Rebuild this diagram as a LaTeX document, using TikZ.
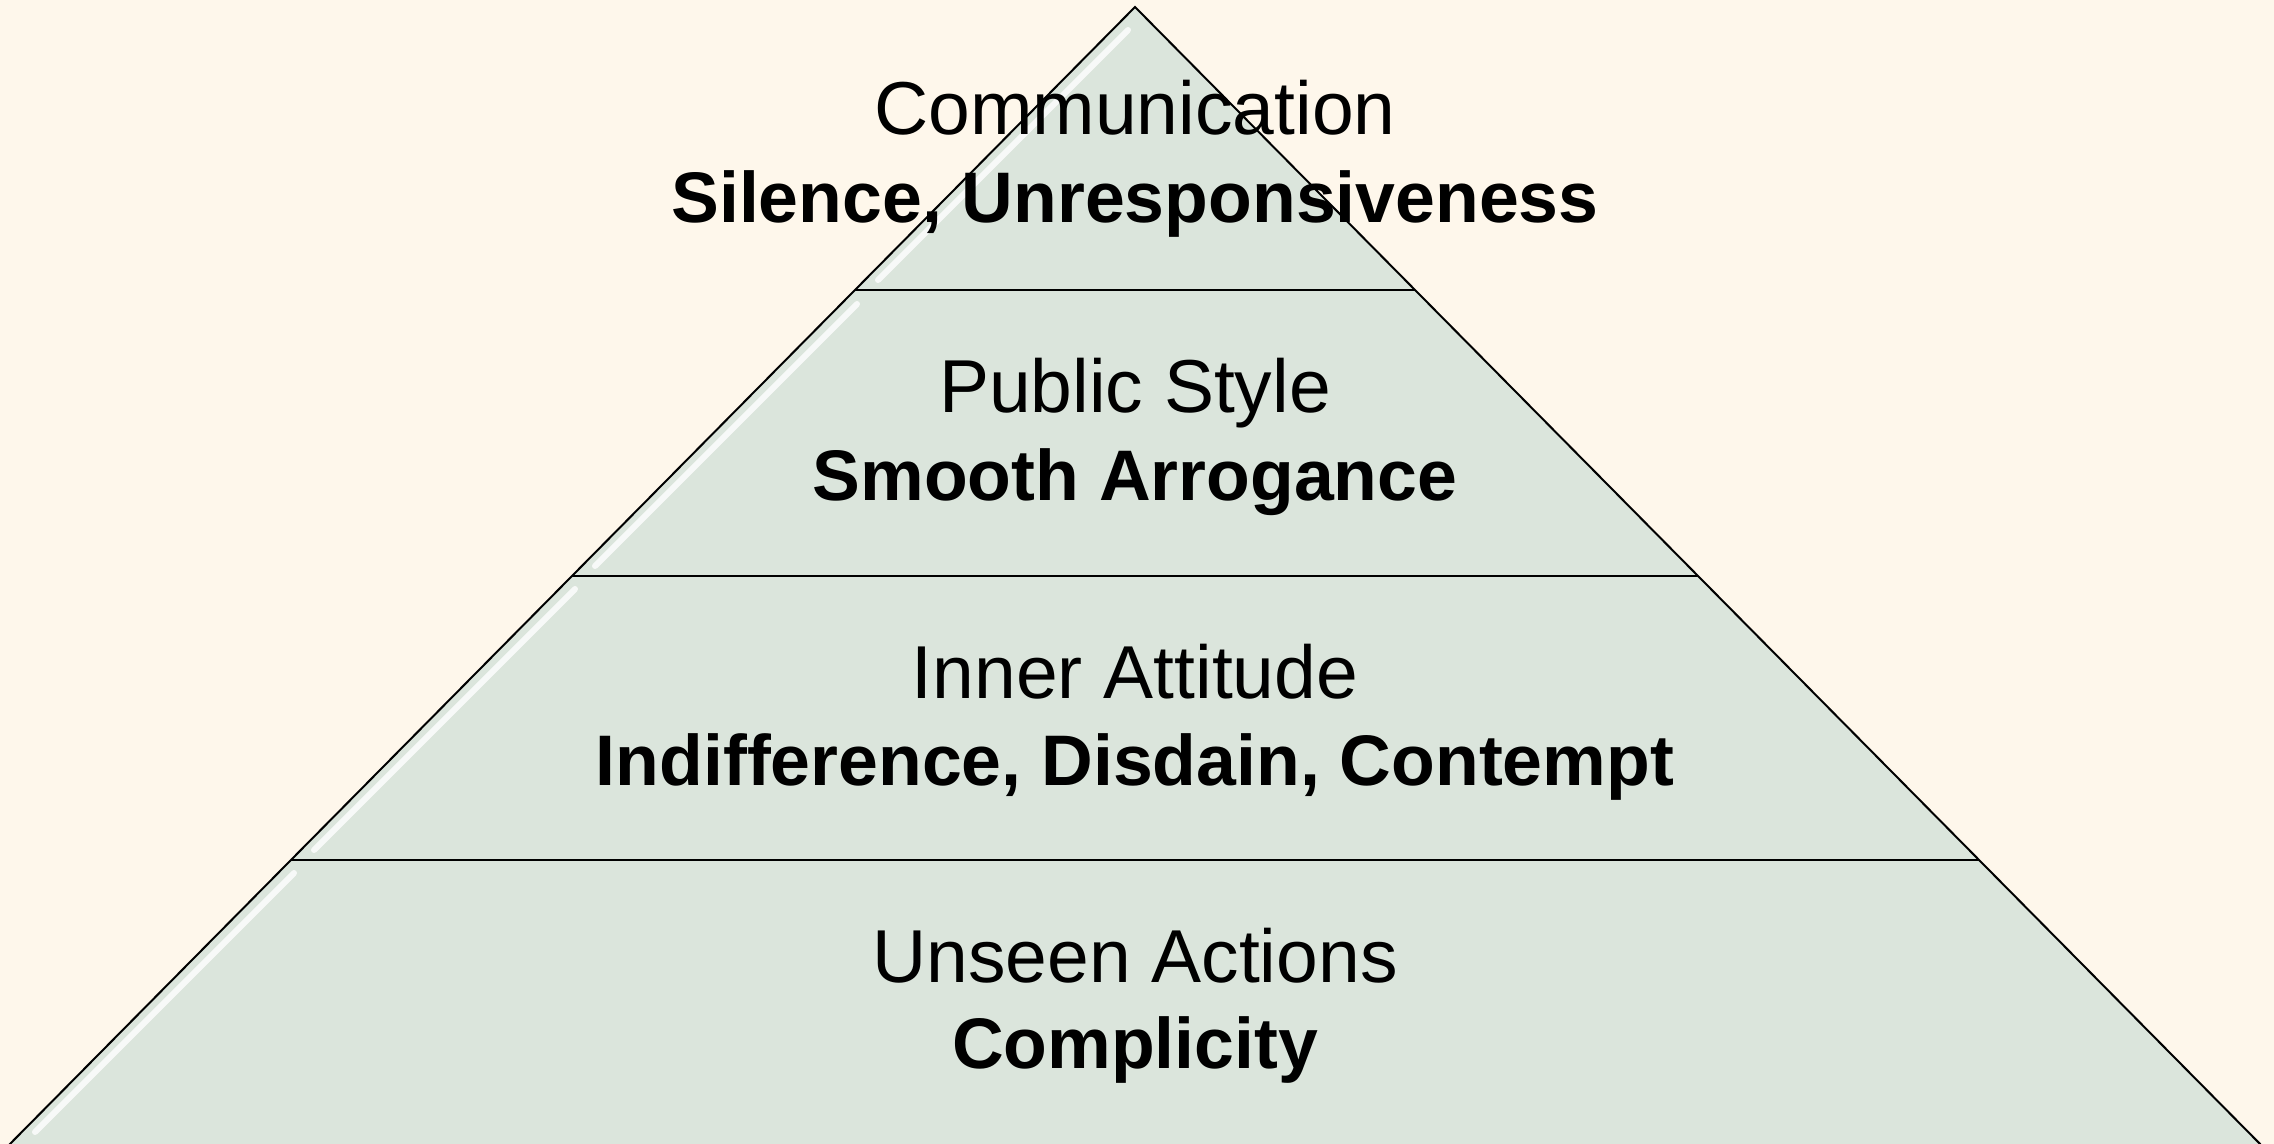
\documentclass[tikz,border=0pt]{standalone}
\usepackage{fontspec}
\setmainfont{Liberation Sans}
\definecolor{bgcol}{HTML}{FEF7EB}
\definecolor{tiercol}{HTML}{DBE5DC}
\begin{document}
\begin{tikzpicture}[x=0.5pt,y=-0.5pt,
  lbl/.style={anchor=base, inner sep=0pt, font=\fontsize{37.5}{40}\selectfont},
  lblb/.style={anchor=base, inner sep=0pt, font=\fontsize{35.8}{40}\selectfont\bfseries},
  edgeline/.style={draw=black, line width=1pt, line join=miter},
  gloss/.style={draw=white, line width=3pt, opacity=0.8, line cap=round}]
\fill[bgcol] (0,0) rectangle (2274,1144);
\useasboundingbox (0,0) rectangle (2274,1144);
\begin{scope}
\clip (0,0) rectangle (2274,1144);
\coordinate (apex) at (1135,7);
\coordinate (bl) at (4,1150);
\coordinate (br) at (2266,1150);
\coordinate (l1) at (855,290);  \coordinate (r1) at (1415,290);
\coordinate (l2) at (572,576);  \coordinate (r2) at (1698,576);
\coordinate (l3) at (291,860);  \coordinate (r3) at (1979,860);
\fill[tiercol] (apex) -- (br) -- (bl) -- cycle;
\draw[gloss] (1128,30) -- (878,280);
\draw[gloss] (857,304) -- (595,566);
\draw[gloss] (575,589) -- (314,850);
\draw[gloss] (294,873) -- (35,1132);
\draw[edgeline] (bl) -- (apex) -- (br);
\draw[edgeline] (l1) -- (r1);
\draw[edgeline] (l2) -- (r2);
\draw[edgeline] (l3) -- (r3);
\end{scope}
\node[lbl]  (t1a) at (1135,135) {Communication};
\node[lblb] (t1b) at (1135,223) {Silence, Unresponsiveness};
\node[lbl]  (t2a) at (1135,412) {Public Style};
\node[lblb] (t2b) at (1135,500) {Smooth Arrogance};
\node[lbl]  (t3a) at (1135,698) {Inner Attitude};
\node[lblb] (t3b) at (1135,785) {Indifference, Disdain, Contempt};
\node[lbl]  (t4a) at (1135,982) {Unseen Actions};
\node[lblb] (t4b) at (1135,1068) {Complicity};
\end{tikzpicture}
\end{document}
